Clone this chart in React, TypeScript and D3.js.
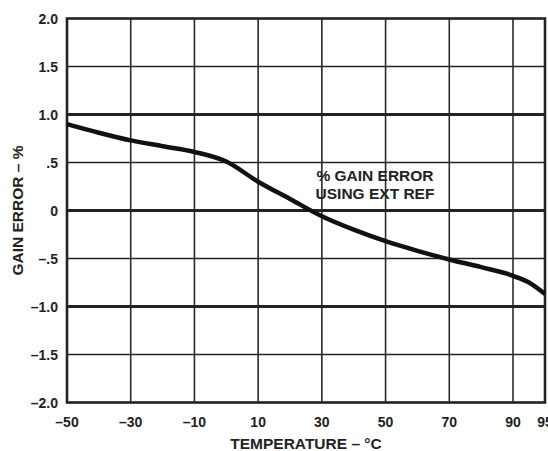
import React from "react";
import * as d3 from "d3";

const temperatures = [-50, -40, -30, -20, -10, 0, 10, 20, 30, 40, 50, 60, 70, 80, 90, 92.5, 95];
const gainError = [0.9, 0.81, 0.73, 0.67, 0.61, 0.51, 0.3, 0.12, -0.06, -0.2, -0.32, -0.42, -0.51, -0.59, -0.68, -0.75, -0.87];

const xTicks = [-50, -30, -10, 10, 30, 50, 70, 90, 95];
const xTickLabels = ["–50", "–30", "–10", "10", "30", "50", "70", "90", "95"];
const yTicks = [2, 1.5, 1, 0.5, 0, -0.5, -1, -1.5, -2];
const yTickLabels = ["2.0", "1.5", "1.0", ".5", "0", "–.5", "–1.0", "–1.5", "–2.0"];
const heavyY = [1, 0, -1];

const W = 548;
const H = 451;
const left = 67;
const right = 545;
const top = 18.5;
const bottom = 402.5;

const FONT = "'Liberation Sans', Arial, Helvetica, sans-serif";

export default function App() {
  // Datasheet axis: -50..90 evenly spaced, last column 90..95 drawn wider
  const x = d3.scaleLinear().domain([-50, 90, 95]).range([left, 513, right]);
  const y = d3.scaleLinear().domain([-2, 2]).range([bottom, top]);

  const pts = temperatures.map((t, i) => [x(t), y(gainError[i])] as [number, number]);
  const line = d3.line<[number, number]>().curve(d3.curveMonotoneX)(pts) || "";

  return (
    <svg width={W} height={H} style={{ position: "absolute", left: 0, top: 0, background: "#fff" }}>
      <rect x={0} y={0} width={W} height={H} fill="#fff" />
      {/* vertical grid */}
      {xTicks.slice(1, -1).map((t) => (
        <line key={"vx" + t} x1={x(t)} x2={x(t)} y1={top} y2={bottom} stroke="#2a2a2a" strokeWidth={1.6} />
      ))}
      {/* horizontal grid */}
      {yTicks.slice(1, -1).map((v) => (
        <line
          key={"hy" + v}
          x1={left}
          x2={right}
          y1={y(v)}
          y2={y(v)}
          stroke="#222"
          strokeWidth={heavyY.includes(v) ? 2.8 : 1.6}
        />
      ))}
      {/* frame */}
      <rect x={left} y={top} width={right - left} height={bottom - top} fill="none" stroke="#222" strokeWidth={2.6} />
      {/* curve */}
      <path d={line} fill="none" stroke="#111" strokeWidth={4.5} strokeLinecap="butt" />
      {/* annotation */}
      <text x={375} y={181} textAnchor="middle" fontFamily={FONT} fontWeight="bold" fontSize={15.5} fill="#222">
        % GAIN ERROR
      </text>
      <text x={375} y={198.5} textAnchor="middle" fontFamily={FONT} fontWeight="bold" fontSize={15.5} fill="#222">
        USING EXT REF
      </text>
      {/* y tick labels */}
      {yTicks.map((v, i) => (
        <text key={"yl" + v} x={58} y={y(v) + 5} textAnchor="end" fontFamily={FONT} fontWeight="bold" fontSize={14} fill="#222">
          {yTickLabels[i]}
        </text>
      ))}
      {/* x tick labels */}
      {xTicks.map((t, i) => (
        <text key={"xl" + t} x={x(t)} y={427} textAnchor="middle" fontFamily={FONT} fontWeight="bold" fontSize={14} fill="#222">
          {xTickLabels[i]}
        </text>
      ))}
      {/* axis titles */}
      <text x={(left + right) / 2} y={449} textAnchor="middle" fontFamily={FONT} fontWeight="bold" fontSize={15.5} fill="#222">
        TEMPERATURE – °C
      </text>
      <text
        transform={`translate(23, ${(top + bottom) / 2}) rotate(-90)`}
        textAnchor="middle"
        fontFamily={FONT}
        fontWeight="bold"
        fontSize={15.5}
        fill="#222"
      >
        GAIN ERROR – %
      </text>
    </svg>
  );
}
